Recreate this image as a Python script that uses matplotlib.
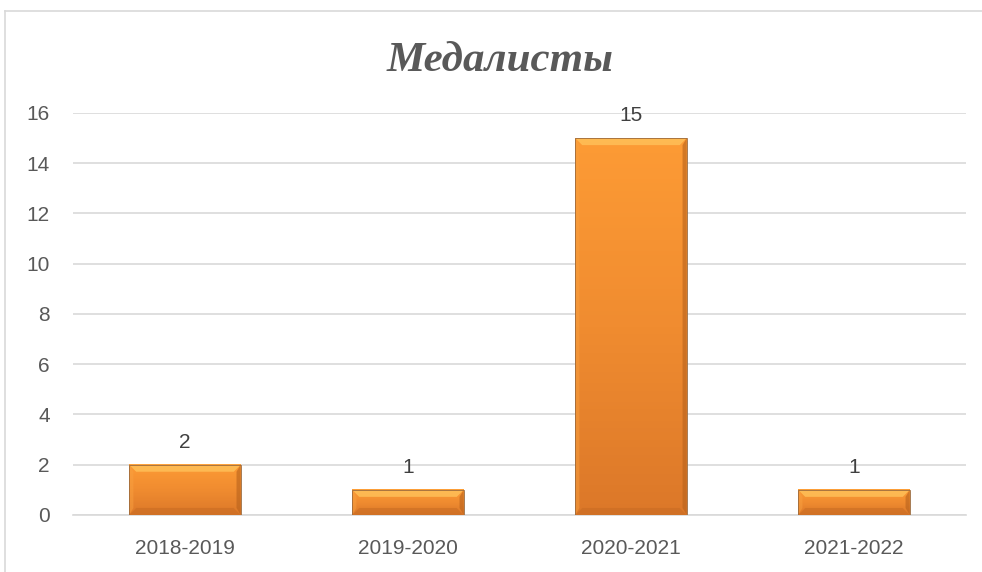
import matplotlib.pyplot as plt
import numpy as np
from matplotlib.patches import Rectangle, Polygon
from matplotlib.lines import Line2D
from matplotlib.colors import LinearSegmentedColormap

# data
seasons = ['2018-2019', '2019-2020', '2020-2021', '2021-2022']
medalists = [2, 1, 15, 1]
yticks = [0, 2, 4, 6, 8, 10, 12, 14, 16]

fig = plt.figure(figsize=(9.82, 5.72), dpi=100)
ax = fig.add_axes([0.0748, 0.0997, 0.9084, 0.7028])

# outer chart frame (only top and left edges visible)
top = 1 - 11/572
left = 5/982
fig.lines.append(Line2D([left, 1.0], [top, top], transform=fig.transFigure,
                        color='#d9d9d9', linewidth=1.2))
fig.lines.append(Line2D([left, left], [0, top], transform=fig.transFigure,
                        color='#d9d9d9', linewidth=1.2))

x = np.arange(len(seasons))
w = 0.5
grad = LinearSegmentedColormap.from_list('bar', ['#dc7829', '#f08c30', '#fd9b35'])

# bevel sizes in data units (~7 px)
bx = 7/223.0
by = 7/25.1

for xi, v in zip(x, medalists):
    l, r = xi - w/2, xi + w/2
    # soft shadow
    ax.add_patch(Rectangle((l + 0.004, -0.1), w, v, facecolor='#bbbbbb',
                           edgecolor='none', alpha=0.35, zorder=2))
    img = np.linspace(0, 1, 100).reshape(-1, 1)
    ax.imshow(img, cmap=grad, aspect='auto', origin='lower',
              extent=[l, r, 0, v], zorder=3)
    # bevels
    ax.add_patch(Polygon([(l, v), (r, v), (r - bx, v - by), (l + bx, v - by)],
                         facecolor='#ffc25a', edgecolor='none', alpha=0.8, zorder=4))
    ax.add_patch(Polygon([(r, v), (r, 0), (r - bx*0.6, by), (r - bx*0.6, v - by)],
                         facecolor='#b8621c', edgecolor='none', alpha=0.6, zorder=4))
    ax.add_patch(Polygon([(l, 0), (r, 0), (r - bx, by), (l + bx, by)],
                         facecolor='#c56a22', edgecolor='none', alpha=0.5, zorder=4))
    ax.add_patch(Polygon([(l, 0), (l, v), (l + bx*0.6, v - by), (l + bx*0.6, by)],
                         facecolor='#f8a040', edgecolor='none', alpha=0.5, zorder=4))
    ax.add_patch(Rectangle((l, 0), w, v, fill=False, edgecolor='#9c6a3c',
                           linewidth=0.6, zorder=5))
    ax.text(xi, v + 0.52, str(v), ha='center', va='bottom', fontsize=15,
            color='#404040', family='Liberation Sans')

ax.set_xlim(-0.5, len(seasons) - 0.5)
ax.set_ylim(0, 16)
ax.set_yticks(yticks)
ax.set_xticks(x)
ax.set_xticklabels(seasons)
ax.yaxis.grid(True, color='#d9d9d9', linewidth=1.2)
ax.set_axisbelow(True)
for s in ['top', 'right', 'left']:
    ax.spines[s].set_visible(False)
ax.spines['bottom'].set_color('#d9d9d9')
ax.spines['bottom'].set_linewidth(1.2)
ax.tick_params(length=0, labelsize=15, labelcolor='#595959')
ax.tick_params(axis='x', pad=17)
ax.tick_params(axis='y', pad=17)
for lab in ax.get_xticklabels() + ax.get_yticklabels():
    lab.set_family('Liberation Sans')

fig.text(0.509, 0.893, 'Медалисты', ha='center', va='center', fontsize=31,
         fontweight='bold', fontstyle='italic', family='Liberation Serif',
         color='#595959')

fig.savefig('out.png', dpi=100)
